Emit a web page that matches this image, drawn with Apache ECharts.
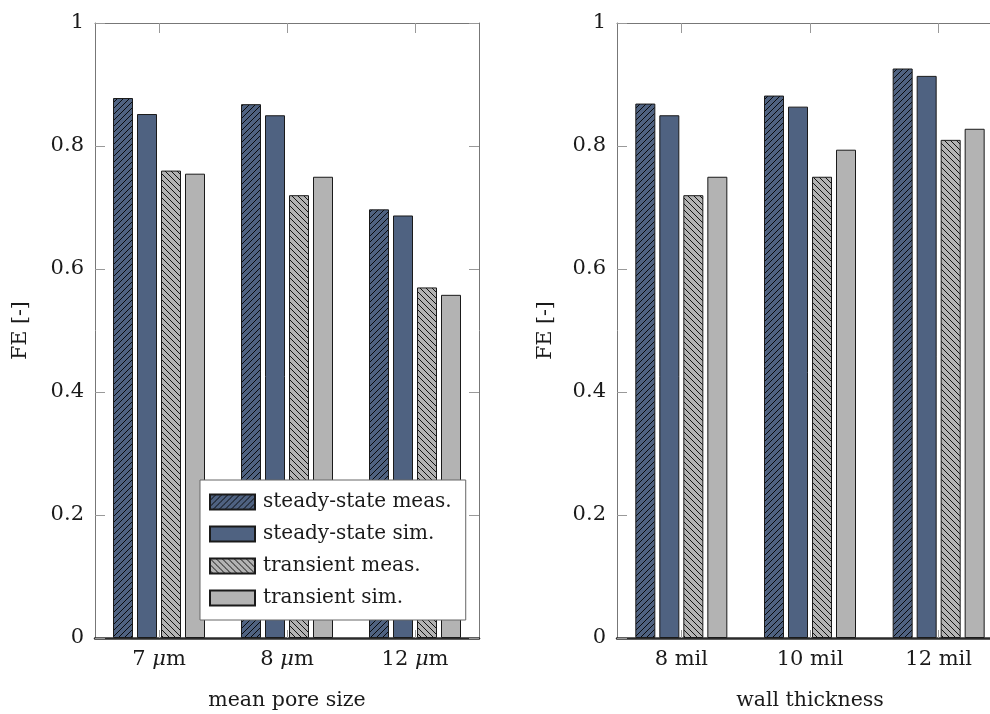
<!DOCTYPE html>
<html>
<head>
<meta charset="utf-8">
<script src="https://cdn.jsdelivr.net/npm/echarts@6/dist/echarts.min.js"></script>
<style>
  html, body { margin: 0; padding: 0; background: #fff; }
  #chart { width: 990px; height: 714px; }
</style>
</head>
<body>
<div id="chart"></div>
<script>
// data
const poreSizes = ["7 μm", "8 μm", "12 μm"];
const wallThick = ["8 mil", "10 mil", "12 mil"];
const seriesNames = ["steady-state meas.", "steady-state sim.", "transient meas.", "transient sim."];

const poreSteadyMeas = [0.878, 0.868, 0.697];
const poreSteadySim = [0.852, 0.850, 0.687];
const poreTransMeas = [0.760, 0.720, 0.570];
const poreTransSim = [0.755, 0.750, 0.558];

const wallSteadyMeas = [0.869, 0.882, 0.926];
const wallSteadySim = [0.850, 0.864, 0.914];
const wallTransMeas = [0.720, 0.750, 0.810];
const wallTransSim = [0.750, 0.794, 0.828];

const yTicks = [0, 0.2, 0.4, 0.6, 0.8, 1];

const BLUE = "#4f6281";
const GRAY = "#b3b3b3";
const FONT = "DejaVu Serif";
const INK = "#1a1a1a";

// diagonal hatch on a coloured background, dir > 0 is "/" and dir < 0 is "\"
function hatch(bg, dir) {
  const s = 6;
  const c = document.createElement("canvas");
  c.width = c.height = s;
  const g = c.getContext("2d");
  g.fillStyle = bg;
  g.fillRect(0, 0, s, s);
  g.strokeStyle = "#000";
  g.lineWidth = 0.9;
  g.beginPath();
  if (dir > 0) {
    g.moveTo(-1, s + 1); g.lineTo(s + 1, -1);
    g.moveTo(-1, 1); g.lineTo(1, -1);
    g.moveTo(s - 1, s + 1); g.lineTo(s + 1, s - 1);
  } else {
    g.moveTo(-1, -1); g.lineTo(s + 1, s + 1);
    g.moveTo(-1, s - 1); g.lineTo(1, s + 1);
    g.moveTo(s - 1, -1); g.lineTo(s + 1, 1);
  }
  g.stroke();
  return { image: c, repeat: "repeat" };
}

const fills = [hatch(BLUE, 1), BLUE, hatch(GRAY, -1), GRAY];

// right panel runs past the window edge, as in the source figure
const grids = [
  { left: 95, width: 384, top: 23, bottom: 76, outerBoundsMode: "none", containLabel: false },
  { left: 617, width: 386, top: 23, bottom: 76, outerBoundsMode: "none", containLabel: false }
];

const labelRich = {
  i: { fontFamily: FONT, fontSize: 21, fontStyle: "italic", color: INK }
};

function xAxes(gi, cats, name) {
  return [
    {
      type: "category", gridIndex: gi, data: cats, position: "bottom",
      name: name, nameLocation: "middle", nameGap: 52,
      nameTextStyle: { fontFamily: FONT, fontSize: 20.5, color: INK },
      axisLine: { show: true, onZero: false, lineStyle: { color: "#2b2b2b", width: 2.5 } },
      axisTick: { show: true, inside: true, alignWithLabel: true, interval: 0, length: 8, lineStyle: { color: "#999" } },
      axisLabel: {
        interval: 0, hideOverlap: false,
        fontFamily: FONT, fontSize: 21, color: INK, margin: 11,
        formatter: (v) => v.replace("μ", "{i|μ}"),
        rich: labelRich
      },
      splitLine: { show: false }
    },
    {
      type: "category", gridIndex: gi, data: cats, position: "top",
      axisLine: { show: true, onZero: false, lineStyle: { color: "#777", width: 1 } },
      axisTick: { show: true, inside: true, alignWithLabel: true, interval: 0, length: 10, lineStyle: { color: "#999" } },
      axisLabel: { show: false },
      splitLine: { show: false }
    }
  ];
}

function yAxes(gi, gap) {
  const base = {
    type: "value", gridIndex: gi, min: 0, max: 1, interval: 0.2,
    splitLine: { show: false }
  };
  return [
    Object.assign({}, base, {
      position: "left",
      name: "FE [-]", nameLocation: "middle", nameGap: gap,
      nameTextStyle: { fontFamily: FONT, fontSize: 20.5, color: INK },
      axisLine: { show: true, onZero: false, lineStyle: { color: "#777", width: 1 } },
      axisTick: { show: true, inside: true, length: 10, lineStyle: { color: "#999" } },
      axisLabel: {
        fontFamily: FONT, fontSize: 21, color: INK, margin: 11,
        formatter: (v) => (yTicks.includes(v) ? String(v) : "")
      }
    }),
    Object.assign({}, base, {
      position: "right",
      axisLine: { show: true, onZero: false, lineStyle: { color: "#777", width: 1 } },
      axisTick: { show: true, inside: true, length: 10, lineStyle: { color: "#999" } },
      axisLabel: { show: false }
    })
  ];
}

function bars(gi, valueSets) {
  return valueSets.map((vals, k) => ({
    name: seriesNames[k],
    type: "bar",
    xAxisIndex: gi * 2,
    yAxisIndex: gi * 2,
    data: vals,
    barWidth: 20,
    barGap: "20%",
    itemStyle: { color: fills[k], borderColor: "#1a1a1a", borderWidth: 1 },
    emphasis: { disabled: true }
  }));
}

const chart = echarts.init(document.getElementById("chart"), null, { renderer: "canvas" });
chart.setOption({
  animation: false,
  backgroundColor: "#fff",
  grid: grids,
  xAxis: [].concat(xAxes(0, poreSizes, "mean pore size"), xAxes(1, wallThick, "wall thickness")),
  yAxis: [].concat(yAxes(0, 64), yAxes(1, 61)),
  legend: {
    data: seriesNames,
    orient: "vertical",
    left: 200,
    top: 480,
    itemWidth: 45,
    itemHeight: 15,
    itemGap: 12,
    padding: [12, 14, 12, 9],
    backgroundColor: "#fff",
    borderColor: "#666",
    borderWidth: 1,
    icon: "rect",
    selectedMode: false,
    textStyle: { fontFamily: FONT, fontSize: 20, lineHeight: 20, color: INK, padding: [0, 0, 0, 3] }
  },
  series: [].concat(
    bars(0, [poreSteadyMeas, poreSteadySim, poreTransMeas, poreTransSim]),
    bars(1, [wallSteadyMeas, wallSteadySim, wallTransMeas, wallTransSim])
  )
});
</script>
</body>
</html>
